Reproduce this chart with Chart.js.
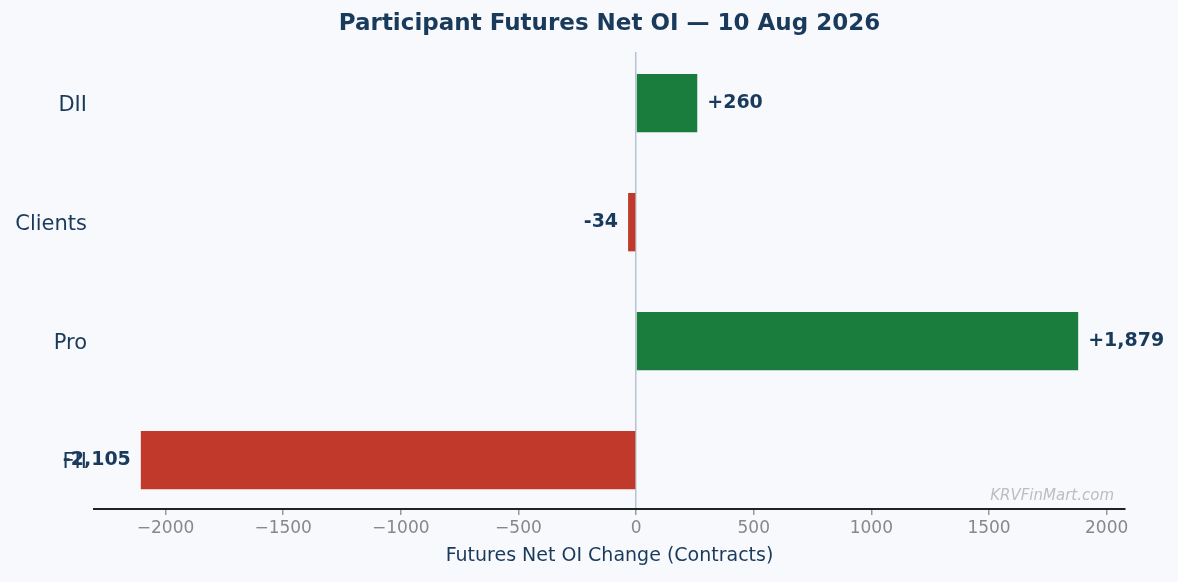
<!DOCTYPE html>
<html>
<head>
<meta charset="utf-8">
<script src="https://cdn.jsdelivr.net/npm/chart.js@4"></script>
<style>
  html, body { margin: 0; padding: 0; background: #f7f9fc; }
  #wrap { width: 1178px; height: 582px; }
</style>
</head>
<body>
<div id="wrap"><canvas id="oiChart"></canvas></div>
<script>
// bottom to top, like the reference
const participants = ['FII', 'Pro', 'Clients', 'DII'];
const netOiChange = [-2105, 1879, -34, 260];
const xTicks = [-2000, -1500, -1000, -500, 0, 500, 1000, 1500, 2000];
const chartTitle = 'Participant Futures Net OI \u2014 10 Aug 2026';

const GREEN = '#1b7d3d';
const RED = '#c0392b';
const NAVY = '#1a3a5c';
const FONT = "'DejaVu Sans', sans-serif";

const fmtSigned = v => (v > 0 ? '+' : '') + v.toLocaleString('en-US');
const fmtTick = v => (v < 0 ? '\u2212' + Math.abs(v) : String(v));

// title centred over the plot area, not the whole canvas
const plotTitle = {
  id: 'plotTitle',
  afterDraw(chart) {
    const { ctx, chartArea } = chart;
    ctx.save();
    ctx.font = `bold 23px ${FONT}`;
    ctx.fillStyle = NAVY;
    ctx.textAlign = 'center';
    ctx.textBaseline = 'middle';
    ctx.fillText(chartTitle, (chartArea.left + chartArea.right) / 2, 24);
    ctx.restore();
  }
};

// value labels next to each bar end
const barLabels = {
  id: 'barLabels',
  afterDatasetsDraw(chart) {
    const { ctx } = chart;
    const meta = chart.getDatasetMeta(0);
    ctx.save();
    ctx.font = `bold 19px ${FONT}`;
    ctx.fillStyle = NAVY;
    ctx.textBaseline = 'middle';
    meta.data.forEach((bar, i) => {
      const v = netOiChange[i];
      if (v >= 0) {
        ctx.textAlign = 'left';
        ctx.fillText(fmtSigned(v), bar.x + 10, bar.y);
      } else {
        ctx.textAlign = 'right';
        ctx.fillText(fmtSigned(v), bar.x - 10, bar.y);
      }
    });
    ctx.restore();
  }
};

const watermark = {
  id: 'watermark',
  afterDraw(chart) {
    const { ctx, chartArea } = chart;
    ctx.save();
    ctx.font = `italic 15px ${FONT}`;
    ctx.fillStyle = '#bdbdbd';
    ctx.textAlign = 'right';
    ctx.textBaseline = 'middle';
    ctx.fillText('KRVFinMart.com', chartArea.right - 11, chartArea.bottom - 13);
    ctx.restore();
  }
};

const bgFill = {
  id: 'bgFill',
  beforeDraw(chart) {
    const { ctx, width, height } = chart;
    ctx.save();
    ctx.fillStyle = '#f7f9fc';
    ctx.fillRect(0, 0, width, height);
    ctx.restore();
  }
};

new Chart(document.getElementById('oiChart'), {
  type: 'bar',
  data: {
    datasets: [{
      data: netOiChange.map((v, i) => ({ x: v, y: i })),
      backgroundColor: netOiChange.map(v => (v >= 0 ? GREEN : RED)),
      borderWidth: 0,
      barPercentage: 0.49,
      categoryPercentage: 1
    }]
  },
  options: {
    indexAxis: 'y',
    responsive: true,
    maintainAspectRatio: false,
    animation: false,
    layout: { padding: { left: 0, right: 53, top: 52, bottom: 0 } },
    plugins: {
      legend: { display: false },
      tooltip: { enabled: false },
      title: { display: false }
    },
    scales: {
      x: {
        type: 'linear',
        min: -2304,
        max: 2078,
        afterBuildTicks: s => { s.ticks = xTicks.map(v => ({ value: v })); },
        afterFit: s => { s.height = 73; },
        border: { display: true, color: '#222222', width: 2 },
        grid: {
          drawOnChartArea: true,
          drawTicks: true,
          tickLength: 6,
          tickColor: '#999999',
          tickWidth: 1.5,
          lineWidth: 1.5,
          color: c => (c.tick && c.tick.value === 0 ? '#b6c4d2' : 'rgba(0,0,0,0)')
        },
        ticks: {
          color: '#888888',
          padding: 3,
          font: { family: FONT, size: 17 },
          callback: v => fmtTick(v)
        },
        title: {
          display: true,
          text: 'Futures Net OI Change (Contracts)',
          color: NAVY,
          font: { family: FONT, size: 19, lineHeight: 1.2 },
          padding: { top: 4, bottom: 14.6 }
        }
      },
      y: {
        type: 'linear',
        offset: false,
        min: -0.41,
        max: 3.43,
        afterBuildTicks: s => { s.ticks = participants.map((_, i) => ({ value: i })); },
        afterFit: s => { s.width = 94; },
        border: { display: false },
        grid: { display: false, drawTicks: false },
        ticks: {
          color: NAVY,
          padding: 7,
          labelOffset: 2,
          font: { family: FONT, size: 21 },
          callback: v => participants[v]
        }
      }
    }
  },
  plugins: [bgFill, barLabels, watermark, plotTitle]
});
</script>
</body>
</html>
